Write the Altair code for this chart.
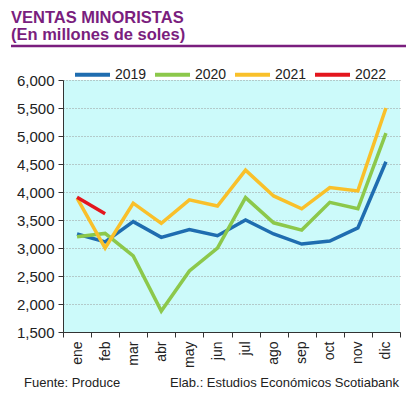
import altair as alt
import pandas as pd

months = ["ene", "feb", "mar", "abr", "may", "jun", "jul", "ago", "sep", "oct", "nov", "dic"]
v2019 = [3250, 3110, 3470, 3190, 3330, 3220, 3500, 3250, 3070, 3125, 3360, 4540]
v2020 = [3200, 3260, 2860, 1875, 2590, 3000, 3900, 3450, 3320, 3815, 3700, 5050]
v2021 = [3890, 3000, 3800, 3440, 3860, 3750, 4390, 3930, 3700, 4080, 4020, 5500]
v2022 = [3905, 3610]
series = ["2019", "2020", "2021", "2022"]
colors = ["#1F6DB0", "#8CC84B", "#F9C02A", "#E3161D"]

rows = []
for name, vals in zip(series, [v2019, v2020, v2021, v2022]):
    for i, v in enumerate(vals):
        rows.append({"mes": months[i], "serie": name, "valor": v, "orden": i})
df = pd.DataFrame(rows)

W, H = 337, 252
FONT = "Liberation Sans"

lines = alt.Chart(df).mark_line(strokeWidth=3.5).encode(
    x=alt.X("mes:N", sort=months,
            scale=alt.Scale(type="band", paddingInner=0, paddingOuter=0),
            axis=alt.Axis(title=None, labelAngle=-90, labelFontSize=14, labelColor="#222",
                          labelFont=FONT, tickBand="extent", tickSize=5, tickColor="#333",
                          domainColor="#333", labelPadding=4, grid=False)),
    y=alt.Y("valor:Q", scale=alt.Scale(domain=[1500, 6000], nice=False, zero=False),
            axis=alt.Axis(title=None, values=list(range(1500, 6001, 500)), format=",d",
                          labelFontSize=15, labelColor="#222", labelFont=FONT,
                          tickSize=5, tickColor="#333", domainColor="#333",
                          gridColor="#9a9a9a", gridDash=[1, 2], gridWidth=1, labelPadding=4)),
    color=alt.Color("serie:N", scale=alt.Scale(domain=series, range=colors),
                    legend=alt.Legend(title=None, orient="none", legendX=10, legendY=-25,
                                      direction="horizontal", symbolType="stroke",
                                      symbolSize=1225, symbolStrokeWidth=4,
                                      labelFontSize=14, labelFont=FONT, labelColor="#222",
                                      labelOffset=3, columnPadding=0, padding=0)),
    order="orden:Q",
)

texts = pd.DataFrame({
    "t": ["VENTAS MINORISTAS", "(En millones de soles)", "Fuente: Produce",
          "Elab.: Estudios Económicos Scotiabank"],
    "x": [-52, -52, -39, 107],
    "y": [-57, -40, 307, 307],
    "s": [16.5, 16.5, 13, 13],
    "w": ["bold", "bold", "normal", "normal"],
    "c": ["#7A1E7E", "#7A1E7E", "#222222", "#222222"],
})

def txt(i):
    r = texts.iloc[i]
    return alt.Chart(texts.iloc[[i]]).mark_text(
        align="left", baseline="alphabetic", fontSize=float(r["s"]), fontWeight=r["w"],
        color=r["c"], font=FONT
    ).encode(text="t:N", x=alt.value(int(r["x"])), y=alt.value(int(r["y"])))

rule = alt.Chart(texts.iloc[[0]]).mark_rule(color="#7A1E7E", strokeWidth=2.5).encode(
    x=alt.value(-52), x2=alt.value(343), y=alt.value(-34))

chart = alt.layer(lines, *[txt(i) for i in range(4)], rule).properties(
    width=W, height=H,
    autosize=alt.AutoSizeParams(type="none"),
    padding={"left": 55, "top": 72, "right": 8, "bottom": 64},
    background="white",
).configure_view(fill="#CCFAFA", stroke=None)

chart.save("out.html", embed_options={"renderer": "svg", "actions": False})
